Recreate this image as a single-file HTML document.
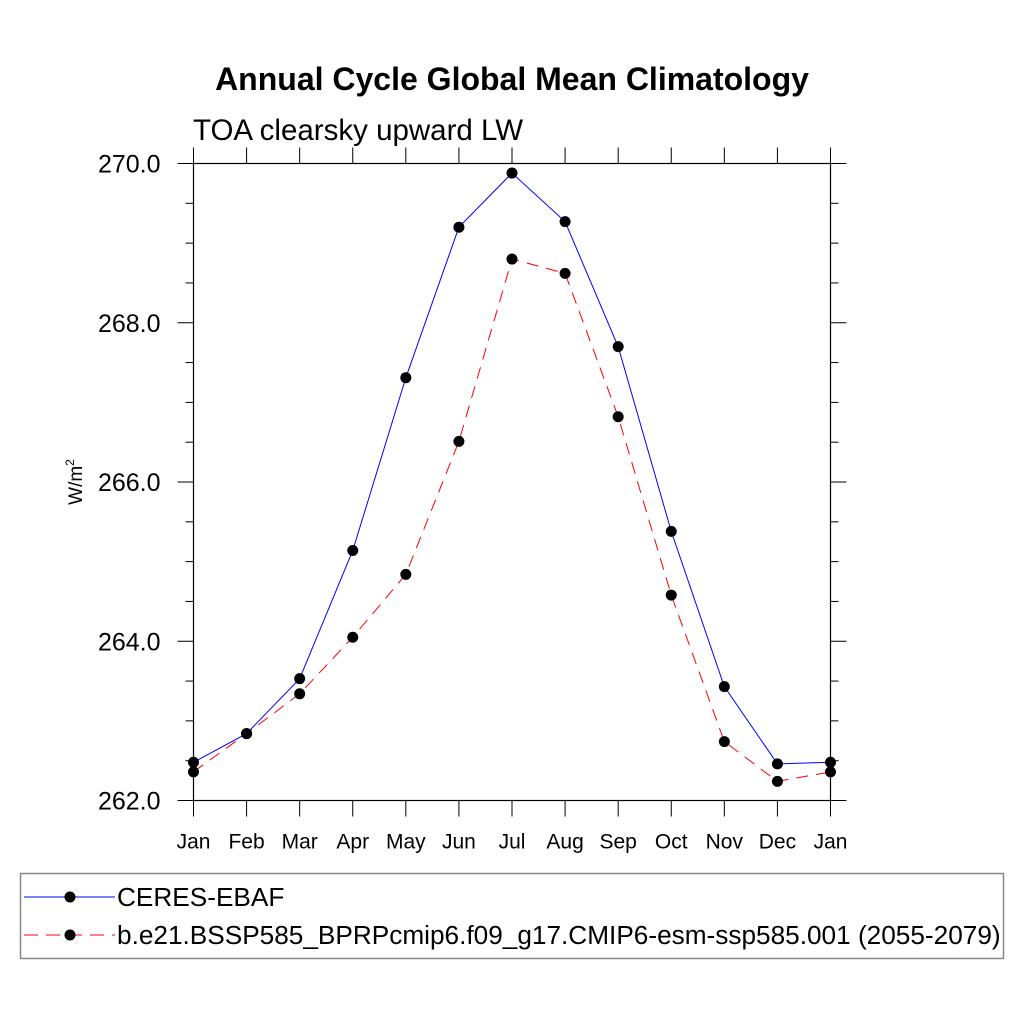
<!DOCTYPE html>
<html><head><meta charset="utf-8"><style>
body{margin:0;background:#fff}
svg text{font-family:"Liberation Sans",sans-serif;fill:#000}
</style></head><body>
<svg id="chart" width="1024" height="1024" xmlns="http://www.w3.org/2000/svg">
<text x="512" y="90" text-anchor="middle" font-size="32" font-weight="bold">Annual Cycle Global Mean Climatology</text>
<text x="193" y="140" font-size="29.5">TOA clearsky upward LW</text>
<text transform="translate(82,482) rotate(-90)" text-anchor="middle" font-size="19">W/m<tspan font-size="12" dy="-8">2</tspan></text>
<g id="axes"></g>
<g id="series"></g>
<rect x="20.5" y="873.5" width="983" height="85" fill="none" stroke="#888" stroke-width="1.5"/>
<g>
<line x1="24" y1="897" x2="115" y2="897" stroke="#00f" stroke-width="1"/>
<circle cx="70" cy="897" r="5.5" fill="#000"/>
<text x="117" y="906" font-size="26.2">CERES-EBAF</text>
</g>
<g>
<line x1="24" y1="935" x2="115" y2="935" stroke="#f00" stroke-width="1" stroke-dasharray="14,8"/>
<circle cx="70" cy="935" r="5.5" fill="#000"/>
<text x="117" y="944" font-size="26.2">b.e21.BSSP585_BPRPcmip6.f09_g17.CMIP6-esm-ssp585.001 (2055-2079)</text>
</g>
</svg>
<script>
const months=["Jan","Feb","Mar","Apr","May","Jun","Jul","Aug","Sep","Oct","Nov","Dec","Jan"];
const ceres=[262.48,262.84,263.53,265.14,267.31,269.20,269.88,269.27,267.70,265.38,263.43,262.46,262.48];
const model=[262.36,262.84,263.34,264.05,264.84,266.51,268.80,268.62,266.82,264.58,262.74,262.24,262.36];
const yTicks=[262,264,266,268,270];
const yTickLabels=["262.0","264.0","266.0","268.0","270.0"];
const NS="http://www.w3.org/2000/svg";
const L=193.5,R=830.5,T=163.5,B=800.5,yMin=262,yMax=270;
function xs(i){return L+i*(R-L)/(months.length-1);}
function ys(v){return B-(v-yMin)/(yMax-yMin)*(B-T);}
function mk(tag,attrs,parent){const e=document.createElementNS(NS,tag);for(const k in attrs)e.setAttribute(k,attrs[k]);parent.appendChild(e);return e;}
const ax=document.getElementById('axes');
const frame=mk('rect',{x:L,y:T,width:R-L,height:B-T,fill:'none',stroke:'#000','stroke-width':1.2},ax);


months.forEach((m,i)=>{
 const x=xs(i);
 mk('line',{x1:x,y1:B,x2:x,y2:B+16,stroke:'#000','stroke-width':1},ax);
 mk('line',{x1:x,y1:T,x2:x,y2:T-16,stroke:'#000','stroke-width':1},ax);
 const t=mk('text',{x:x,y:B+48,'text-anchor':'middle','font-size':21},ax);
 t.textContent=m;
 
 
});
for(let v=yMin;v<=yMax+1e-9;v+=0.5){
 const y=ys(v),major=Math.abs(v-Math.round(v))<1e-9&&Math.round(v)%2===0;
 const len=major?16:8;
 mk('line',{x1:L,y1:y,x2:L-len,y2:y,stroke:'#000','stroke-width':1},ax);
 mk('line',{x1:R,y1:y,x2:R+len,y2:y,stroke:'#000','stroke-width':1},ax);
}
yTicks.forEach((v,i)=>{
 const t=mk('text',{x:L-33,y:ys(v)+9,'text-anchor':'end','font-size':25},ax);
 t.textContent=yTickLabels[i];
 
 
});
const sg=document.getElementById('series');
function drawSeries(vals,color,dash,name){
 const g=mk('g',{},sg);
 
 
 const pts=vals.map((v,i)=>xs(i)+','+ys(v)).join(' ');
 const a={points:pts,fill:'none',stroke:color,'stroke-width':1};
 if(dash)a['stroke-dasharray']=dash;
 mk('polyline',a,g);
 vals.forEach((v,i)=>{
  const c=mk('circle',{cx:xs(i),cy:ys(v),r:5.5,fill:'#000'},g);
  
  
 });
}
drawSeries(ceres,'#00f',null,'series-ceres-ebaf');
drawSeries(model,'#f00','12,8','series-model');
</script>
</body></html>
